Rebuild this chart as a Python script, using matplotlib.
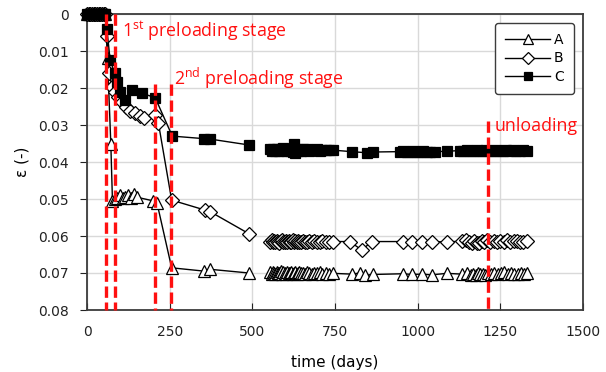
import matplotlib.pyplot as plt
import numpy as np

# --- values (days, strain) ---
days_start = [0, 5, 10, 15, 20, 25, 30, 35, 40, 45, 50, 55]
eps_start = [0.0] * len(days_start)

days_dense = [553, 558, 562, 566, 570, 574, 578, 582, 586, 590, 594, 598,
              602, 606, 610, 614, 618, 622, 626, 630, 634, 638, 642, 648,
              654, 660, 666, 672, 680, 688, 696, 704, 712, 722, 732, 745]

# sample A
days_a_early = [62, 72, 77, 85, 92, 100, 108, 116, 124, 133, 142, 150, 200,
                212, 256, 355, 372, 490]
eps_a_early = [0.012, 0.035, 0.0505, 0.0500, 0.0496, 0.0488, 0.0497, 0.0494,
               0.0490, 0.0496, 0.0486, 0.0495, 0.0505, 0.0512, 0.0686,
               0.0695, 0.0690, 0.0700]
eps_a_dense = [0.0698, 0.0702, 0.0696, 0.0700, 0.0704, 0.0697, 0.0701, 0.0699,
               0.0695, 0.0703, 0.0698, 0.0700, 0.0702, 0.0696, 0.0699, 0.0701,
               0.0697, 0.0703, 0.0700, 0.0698, 0.0702, 0.0699, 0.0696, 0.0701,
               0.0700, 0.0703, 0.0698, 0.0700, 0.0702, 0.0699, 0.0701, 0.0698,
               0.0703, 0.0700, 0.0702, 0.0701]
days_a_late = [800, 826, 841, 866, 957, 982, 1012, 1042, 1088, 1133, 1150,
               1160, 1168, 1175, 1182, 1190, 1197, 1205, 1213, 1222, 1232,
               1242, 1252, 1262, 1272, 1282, 1292, 1302, 1312, 1322, 1330]
eps_a_late = [0.0703, 0.0700, 0.0706, 0.0704, 0.0702, 0.0704, 0.0703, 0.0705,
              0.0701, 0.0703, 0.0700, 0.0706, 0.0702, 0.0705, 0.0701, 0.0704,
              0.0702, 0.0706, 0.0700, 0.0703, 0.0699, 0.0704, 0.0701, 0.0698,
              0.0703, 0.0700, 0.0704, 0.0702, 0.0699, 0.0703, 0.0701]

# sample B
days_b_early = [60, 68, 75, 85, 95, 105, 118, 130, 145, 160, 172, 206, 216,
                256, 357, 372, 490]
eps_b_early = [0.006, 0.016, 0.0198, 0.0210, 0.0225, 0.0238, 0.0250, 0.0262,
               0.0268, 0.0275, 0.0280, 0.0274, 0.0295, 0.0503, 0.0530,
               0.0534, 0.0594]
eps_b_dense = [0.0615, 0.0612, 0.0617, 0.0614, 0.0616, 0.0613, 0.0615, 0.0618,
               0.0614, 0.0612, 0.0616, 0.0615, 0.0613, 0.0617, 0.0614, 0.0616,
               0.0615, 0.0612, 0.0617, 0.0614, 0.0615, 0.0613, 0.0616, 0.0615,
               0.0614, 0.0617, 0.0615, 0.0613, 0.0616, 0.0614, 0.0615, 0.0616,
               0.0614, 0.0615, 0.0616, 0.0615]
days_b_late = [795, 831, 861, 957, 982, 1012, 1042, 1088, 1133, 1145, 1155,
               1163, 1170, 1178, 1186, 1194, 1202, 1210, 1220, 1230, 1240,
               1250, 1260, 1270, 1280, 1290, 1300, 1310, 1320, 1330]
eps_b_late = [0.0615, 0.0638, 0.0615, 0.0615, 0.0616, 0.0615, 0.0615, 0.0616,
              0.0614, 0.0611, 0.0617, 0.0619, 0.0613, 0.0618, 0.0620, 0.0614,
              0.0617, 0.0612, 0.0616, 0.0614, 0.0617, 0.0613, 0.0615, 0.0612,
              0.0616, 0.0614, 0.0613, 0.0616, 0.0615, 0.0614]

# sample C
days_c_early = [60, 70, 84, 90, 100, 115, 135, 165, 206, 258, 355, 372, 490]
eps_c_early = [0.004, 0.0125, 0.0160, 0.0185, 0.0210, 0.0232, 0.0205, 0.0214,
               0.0226, 0.0330, 0.0337, 0.0338, 0.0354]
eps_c_dense = [0.0366, 0.0369, 0.0364, 0.0368, 0.0370, 0.0365, 0.0367, 0.0371,
               0.0366, 0.0368, 0.0363, 0.0367, 0.0369, 0.0365, 0.0368, 0.0370,
               0.0366, 0.0372, 0.0352, 0.0376, 0.0366, 0.0369, 0.0367, 0.0370,
               0.0365, 0.0368, 0.0366, 0.0369, 0.0367, 0.0368, 0.0366, 0.0369,
               0.0367, 0.0368, 0.0367, 0.0368]
days_c_late = [800, 846, 865, 947, 957, 967, 977, 987, 997, 1007, 1017, 1027,
               1037, 1052, 1090, 1128, 1138, 1148, 1158, 1168, 1178, 1188,
               1198, 1208, 1218, 1228, 1238, 1248, 1258, 1268, 1278, 1288,
               1298, 1308, 1318, 1330]
eps_c_late = [0.0372, 0.0375, 0.0373, 0.0372, 0.0371, 0.0373, 0.0372, 0.0371,
              0.0373, 0.0372, 0.0371, 0.0372, 0.0373, 0.0372, 0.0371, 0.0369,
              0.0370, 0.0368, 0.0370, 0.0369, 0.0368, 0.0370, 0.0369, 0.0368,
              0.0369, 0.0370, 0.0368, 0.0369, 0.0370, 0.0368, 0.0369, 0.0368,
              0.0370, 0.0369, 0.0368, 0.0369]

# stage markers (days) and where their dashed lines start (strain)
stage_days = [56, 85, 205, 253, 1213]
stage_tops = [0.0, 0.0, 0.019, 0.019, 0.029]


def series(early_d, early_e, dense_e, late_d, late_e):
    # blank cell between day 490 and the dense block -> gap in the line
    d = np.r_[days_start, early_d, np.nan, days_dense, late_d]
    e = np.r_[eps_start, early_e, np.nan, dense_e, late_e]
    return d, e


plt.rcParams["font.family"] = "DejaVu Sans"
plt.rcParams["mathtext.default"] = "regular"

fig = plt.figure(figsize=(6.06, 3.72), dpi=100)
ax = fig.add_axes([87 / 606, 1 - 310 / 372, 496 / 606, 296 / 372])

styles = [
    ("A", "^", "white", 8.5, (days_a_early, eps_a_early, eps_a_dense, days_a_late, eps_a_late)),
    ("B", "D", "white", 6.8, (days_b_early, eps_b_early, eps_b_dense, days_b_late, eps_b_late)),
    ("C", "s", "black", 7.2, (days_c_early, eps_c_early, eps_c_dense, days_c_late, eps_c_late)),
]
for label, marker, face, ms, parts in styles:
    d, e = series(*parts)
    ax.plot(d, e, color="black", lw=1.0, marker=marker, ms=ms,
            mfc=face, mec="black", mew=0.9, label=label, clip_on=False,
            zorder=3)

for x, top in zip(stage_days, stage_tops):
    ax.plot([x, x], [top, 0.08], color="#ff1010", lw=2.4,
            dashes=(3.4, 1.4), zorder=4, clip_on=False)

red_font = dict(color="#ff1010", family="Open Sans", fontsize=12.8, va="center")
ax.text(106, 0.0046, "1$^{st}$ preloading stage", **red_font)
ax.text(263, 0.0175, "2$^{nd}$ preloading stage", **red_font)
ax.text(1232, 0.0302, "unloading", **red_font)

ax.set_xlim(0, 1500)
ax.set_ylim(0.08, 0)
ax.set_xticks([0, 250, 500, 750, 1000, 1250, 1500])
ax.set_yticks([0, 0.01, 0.02, 0.03, 0.04, 0.05, 0.06, 0.07, 0.08])
ax.set_yticklabels(["0", "0.01", "0.02", "0.03", "0.04", "0.05", "0.06",
                    "0.07", "0.08"])
ax.tick_params(axis="x", direction="in", length=5, pad=11, labelsize=10,
               colors="#222222")
ax.tick_params(axis="y", direction="out", length=5, pad=8, labelsize=10,
               colors="#222222")
ax.grid(True, color="#d9d9d9", lw=1.0, zorder=0)
ax.set_axisbelow(True)
for sp in ax.spines.values():
    sp.set_color("#3c3c3c")
    sp.set_linewidth(1.3)

ax.set_xlabel("time (days)", fontsize=11, labelpad=11)
ax.set_ylabel("ε (-)", fontsize=11, labelpad=6)

leg = ax.legend(loc="upper right", bbox_to_anchor=(0.982, 0.97),
                borderaxespad=0, fontsize=10, handlelength=3.2,
                handletextpad=0.3, labelspacing=0.3, borderpad=0.75,
                markerscale=0.85, fancybox=True, framealpha=1,
                edgecolor="#3c3c3c")
leg.get_frame().set_linewidth(1.0)

fig.savefig("out.png", dpi=100)
